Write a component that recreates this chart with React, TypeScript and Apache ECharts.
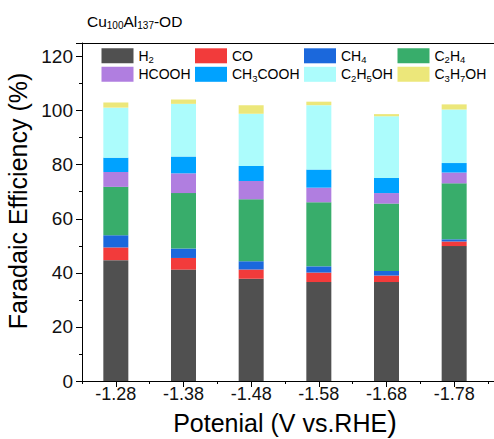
import React, { useEffect, useRef } from "react";
import * as echarts from "echarts";

const categories = ["-1.28", "-1.38", "-1.48", "-1.58", "-1.68", "-1.78"];
const seriesNames = ["H2", "CO", "CH4", "C2H4", "HCOOH", "CH3COOH", "C2H5OH", "C3H7OH"];
const seriesLabels: Record<string, string> = {
  H2: "H{s|2}",
  CO: "CO",
  CH4: "CH{s|4}",
  C2H4: "C{s|2}H{s|4}",
  HCOOH: "HCOOH",
  CH3COOH: "CH{s|3}COOH",
  C2H5OH: "C{s|2}H{s|5}OH",
  C3H7OH: "C{s|3}H{s|7}OH",
};
const colors = ["#505050", "#f23b3b", "#1b68dc", "#38ad6b", "#b07ee0", "#00a2ff", "#acfcfc", "#ece77a"];

const h2 = [44.7, 41.2, 37.8, 36.6, 36.6, 49.9];
const co = [4.7, 4.3, 3.4, 3.5, 2.4, 1.7];
const ch4 = [4.5, 3.5, 3.1, 2.3, 1.7, 0.8];
const c2h4 = [17.9, 20.5, 22.9, 23.7, 24.9, 20.7];
const hcooh = [5.5, 7.3, 6.8, 5.4, 3.9, 4.0];
const ch3cooh = [5.3, 6.2, 5.5, 6.7, 5.6, 3.5];
const c2h5oh = [18.5, 19.5, 19.3, 23.8, 22.8, 19.8];
const c3h7oh = [1.9, 1.6, 3.2, 1.3, 0.8, 1.9];
const allValues = [h2, co, ch4, c2h4, hcooh, ch3cooh, c2h5oh, c3h7oh];

const yTicks = [0, 20, 40, 60, 80, 100, 120];

const FONT = "'Liberation Sans', Arial, sans-serif";

const richSub = {
  s: { fontSize: 9.5, lineHeight: 9, verticalAlign: "bottom" as const, fontFamily: FONT, color: "#000" },
};

export default function App() {
  const ref = useRef<HTMLDivElement>(null);
  useEffect(() => {
    if (!ref.current) return;
    const chart = echarts.init(ref.current, null, { renderer: "svg" });
    const legendCols = [
      { left: 101.5, items: ["H2", "HCOOH"] },
      { left: 195, items: ["CO", "CH3COOH"] },
      { left: 304, items: ["CH4", "C2H5OH"] },
      { left: 397.5, items: ["C2H4", "C3H7OH"] },
    ];
    const option: any = {
      animation: false,
      title: {
        text: "Cu{s|100}Al{s|137}-OD",
        left: 87,
        top: 12,
        padding: 0,
        textStyle: {
          fontFamily: FONT,
          fontSize: 15.5,
          fontWeight: "normal",
          color: "#000",
          lineHeight: 18,
          rich: { s: { fontSize: 10, lineHeight: 9, verticalAlign: "bottom", fontFamily: FONT, color: "#000" } },
        },
      },
      legend: legendCols.map((c) => ({
        orient: "vertical",
        left: c.left,
        top: 46.8,
        padding: 0,
        itemWidth: 32,
        itemHeight: 15,
        itemGap: 0.5,
        icon: "rect",
        data: c.items,
        selectedMode: false,
        formatter: (name: string) => seriesLabels[name],
        textStyle: {
          fontFamily: FONT,
          fontSize: 14,
          lineHeight: 18,
          color: "#000",
          rich: richSub,
        },
      })),
      graphic: [
        { type: "line", shape: { x1: 82, y1: 43.5, x2: 494, y2: 43.5 }, style: { stroke: "#000", lineWidth: 1 }, silent: true },
        { type: "line", shape: { x1: 82, y1: 381.5, x2: 494, y2: 381.5 }, style: { stroke: "#000", lineWidth: 1 }, silent: true },
      ],
      grid: {
        left: 82,
        width: 406,
        top: 43,
        height: 338,
        outerBoundsMode: "none",
        containLabel: false,
        show: false,
      },
      xAxis: [
        {
          type: "category",
          data: categories,
          axisLine: { show: true, lineStyle: { color: "#000", width: 1 } },
          axisTick: { show: true, alignWithLabel: true, length: 6, lineStyle: { color: "#000" } },
          axisLabel: { fontFamily: FONT, fontSize: 18, color: "#111", margin: 4 },
          name: "Potenial (V vs.RHE{p|)}",
          nameLocation: "middle",
          nameGap: 25,
          nameTextStyle: {
            fontFamily: FONT,
            fontSize: 25,
            color: "#000",
            lineHeight: 28,
            rich: { p: { fontSize: 29, fontFamily: FONT, color: "#000", verticalAlign: "bottom", lineHeight: 28 } },
          },
        },
        {
          type: "category",
          data: categories,
          position: "bottom",
          axisLine: { show: false },
          axisTick: { show: true, length: 3, lineStyle: { color: "#000" } },
          axisLabel: { show: false },
        },
      ],
      yAxis: {
        type: "value",
        min: 0,
        max: 125,
        interval: 20,
        axisLine: { show: true, lineStyle: { color: "#000", width: 1 } },
        axisTick: { show: true, length: 6, lineStyle: { color: "#000" } },
        minorTick: { show: true, splitNumber: 2, length: 3, lineStyle: { color: "#000" } },
        splitLine: { show: false },
        axisLabel: {
          fontFamily: FONT,
          fontSize: 19,
          color: "#111",
          margin: 9,
          showMaxLabel: false,
          formatter: (v: number) => (yTicks.includes(v) ? String(v) : ""),
        },
        name: "Faradaic Efficiency (%)",
        nameLocation: "middle",
        nameGap: 48,
        nameTextStyle: { fontFamily: FONT, fontSize: 25, color: "#000", padding: [0, 0, 0, 22] },
      },
      series: seriesNames.map((n, i) => ({
        name: n,
        type: "bar",
        stack: "total",
        barWidth: 25,
        xAxisIndex: 0,
        itemStyle: { color: colors[i] },
        data: allValues[i],
      })),
    };
    chart.setOption(option);
    return () => chart.dispose();
  }, []);
  return (
    <div
      ref={ref}
      style={{ position: "absolute", left: 0, top: 0, width: 494, height: 439, background: "#fff" }}
    />
  );
}
